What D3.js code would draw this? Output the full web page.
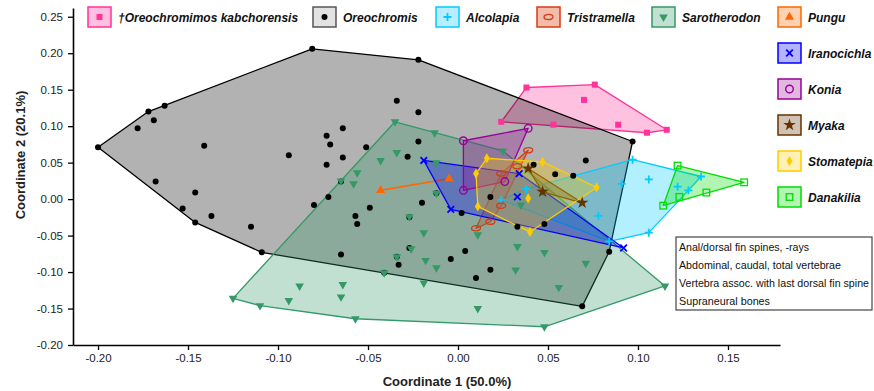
<!DOCTYPE html>
<html><head><meta charset="utf-8">
<script src="https://cdn.jsdelivr.net/npm/d3@7"></script>
<style>
body{margin:0;background:#fff}
svg{display:block}
text{font-family:"Liberation Sans",Arial,Helvetica,sans-serif}
</style>
</head><body>
<svg id="c" width="874" height="391"></svg>
<script>
// ---------- DATA (Coordinate 1, Coordinate 2) ----------
const groupNames = ["†Oreochromimos kabchorensis","Oreochromis","Alcolapia","Tristramella","Sarotherodon","Pungu","Iranocichla","Konia","Myaka","Stomatepia","Danakilia"];

const oreochromimos = [[0.038,0.153],[0.076,0.157],[0.070,0.136],[0.024,0.106],[0.053,0.102],[0.089,0.102],[0.105,0.091],[0.116,0.095]];

const oreochromis = [[-0.200,0.071],[-0.178,0.097],[-0.172,0.120],[-0.169,0.108],[-0.163,0.128],[-0.168,0.024],[-0.153,-0.013],[-0.146,0.009],[-0.146,-0.032],[-0.141,0.073],[-0.137,-0.023],[-0.115,-0.038],[-0.109,-0.073],[-0.094,0.060],[-0.081,0.206],[-0.080,-0.008],[-0.073,0.087],[-0.071,0.075],[-0.064,0.097],[-0.064,0.057],[-0.073,0.047],[-0.072,0.003],[-0.065,0.024],[-0.065,-0.076],[-0.057,-0.023],[-0.056,-0.034],[-0.051,0.071],[-0.049,-0.012],[-0.041,-0.101],[-0.034,0.135],[-0.034,-0.079],[-0.033,-0.090],[-0.028,0.058],[-0.027,-0.025],[-0.027,-0.067],[-0.022,0.119],[-0.022,0.079],[-0.022,0.191],[-0.020,-0.005],[-0.012,0.008],[-0.004,-0.082],[0.002,-0.019],[0.004,-0.071],[0.010,-0.108],[0.018,0.003],[0.018,-0.097],[0.033,-0.038],[0.042,0.047],[0.048,-0.034],[0.054,0.034],[0.064,0.032],[0.071,0.053],[0.069,-0.147],[0.084,-0.072],[0.097,0.079]];

const alcolapia = [[0.097,0.054],[0.091,0.021],[0.106,0.027],[0.106,-0.046],[0.084,-0.058],[0.078,-0.023],[0.122,0.017],[0.128,0.012],[0.135,0.031],[0.038,0.014],[0.024,-0.001]];

const tristramella = [[0.039,0.067],[0.033,0.045],[0.024,0.035],[0.024,-0.009],[0.018,-0.031],[0.010,-0.040]];

const sarotherodon = [[-0.035,0.106],[-0.013,0.091],[0.025,0.066],[0.047,0.010],[-0.034,0.064],[-0.043,0.053],[-0.056,0.036],[-0.058,0.021],[-0.065,0.025],[-0.012,0.050],[-0.012,0.008],[-0.027,-0.024],[-0.019,-0.046],[-0.026,-0.068],[-0.034,-0.079],[-0.018,-0.084],[-0.012,-0.094],[-0.041,-0.101],[-0.019,-0.115],[0.011,-0.049],[0.033,-0.065],[0.048,-0.073],[0.032,-0.097],[0.071,-0.088],[0.056,-0.121],[0.011,-0.150],[0.048,-0.175],[-0.057,-0.164],[-0.088,-0.119],[-0.064,-0.117],[-0.065,-0.134],[-0.094,-0.139],[-0.110,-0.146],[-0.125,-0.136],[0.035,-0.008],[0.115,-0.119]];

const pungu = [[-0.043,0.012],[-0.005,0.028]];

const iranocichla = [[-0.019,0.053],[0.034,0.035],[0.033,0.003],[-0.004,-0.014],[0.092,-0.067]];

const konia = [[0.003,0.080],[0.039,0.097],[0.026,0.024],[0.003,0.012]];

const myaka = [[0.039,0.042],[0.047,0.010],[0.069,-0.005]];

const stomatepia = [[0.016,0.056],[0.047,0.051],[0.077,0.016],[0.039,0.001],[0.040,-0.045],[0.011,-0.010],[0.010,0.035]];

const danakilia = [[0.122,0.046],[0.159,0.023],[0.138,0.009],[0.123,0.003],[0.114,-0.009]];

const seriesValues = [oreochromimos,oreochromis,alcolapia,tristramella,sarotherodon,pungu,iranocichla,konia,myaka,stomatepia,danakilia];

const xTickValues = [-0.20,-0.15,-0.10,-0.05,0.00,0.05,0.10,0.15];
const yTickValues = [-0.20,-0.15,-0.10,-0.05,0.00,0.05,0.10,0.15,0.20,0.25];
const xTitle = "Coordinate 1 (50.0%)";
const yTitle = "Coordinate 2 (20.1%)";
const noteLines = ["Anal/dorsal fin spines, -rays","Abdominal, caudal, total vertebrae","Vertebra assoc. with last dorsal fin spine","Supraneural bones"];

// ---------- STYLES ----------
const styles = [
  {color:"#ff3399", legFill:"#ffbfe0", marker:"square"},
  {color:"#000000", legFill:"#e2e2e2", legStroke:"#555", marker:"dot"},
  {color:"#00ccff", legFill:"#b8eeff", marker:"plus"},
  {color:"#d93a14", legFill:"#f2bcaa", marker:"ellipse"},
  {color:"#339966", legFill:"#c2e0d1", marker:"tridown"},
  {color:"#ff6600", legFill:"#ffd1b3", marker:"triup"},
  {color:"#0000ff", legFill:"#b3b3ff", marker:"x"},
  {color:"#990099", legFill:"#e0b8e0", marker:"ocircle"},
  {color:"#663300", legFill:"#d1c2b3", marker:"star"},
  {color:"#ffcc00", legFill:"#fff0b3", marker:"diamond"},
  {color:"#00dd00", legFill:"#b3f5b3", marker:"osquare"}
];
const legendPos = [[88,7],[313,7],[436,7],[537,7],[652,7],[778,7],[778,43],[778,79],[778,115],[778,151],[778,187]];

// ---------- LAYOUT ----------
const svg = d3.select("#c");
const L = 73, R = 780, T = 8, B = 345;
const x = d3.scaleLinear().domain([-0.2139,0.1789]).range([L,R]);
const y = d3.scaleLinear().domain([-0.20,0.262]).range([B,T]);

function drawMarker(g, type, color){
  switch(type){
    case "square": return g.append("rect").attr("x",-3).attr("y",-3).attr("width",6).attr("height",6).attr("fill",color);
    case "dot": return g.append("circle").attr("r",3).attr("fill",color);
    case "plus": return g.append("path").attr("d","M-4,0H4M0,-4V4").attr("stroke",color).attr("stroke-width",1.8).attr("fill","none");
    case "ellipse": return g.append("ellipse").attr("rx",4.5).attr("ry",2.6).attr("fill","none").attr("stroke",color).attr("stroke-width",1.3);
    case "tridown": return g.append("path").attr("d",d3.symbol(d3.symbolTriangle,32)()).attr("transform","rotate(180)").attr("fill",color);
    case "triup": return g.append("path").attr("d",d3.symbol(d3.symbolTriangle,36)()).attr("fill",color);
    case "x": return g.append("path").attr("d","M-3.3,-3.3L3.3,3.3M-3.3,3.3L3.3,-3.3").attr("stroke",color).attr("stroke-width",1.8).attr("fill","none");
    case "ocircle": return g.append("circle").attr("r",3.8).attr("fill","none").attr("stroke",color).attr("stroke-width",1.4);
    case "star": return g.append("path").attr("d",d3.symbol(d3.symbolStar,48)()).attr("fill",color);
    case "diamond": return g.append("path").attr("d",d3.symbol(d3.symbolDiamond,30)()).attr("fill",color);
    case "osquare": return g.append("rect").attr("x",-3.3).attr("y",-3.3).attr("width",6.6).attr("height",6.6).attr("fill","none").attr("stroke",color).attr("stroke-width",1.3);
  }
}

// polygons (convex hulls)
const polyLayer = svg.append("g");
seriesValues.forEach((pts,i)=>{
  const st = styles[i];
  const px = pts.map(p=>[x(p[0]),y(p[1])]);
  if(px.length >= 3){
    const hull = d3.polygonHull(px);
    polyLayer.append("path")
      .attr("d","M"+hull.map(p=>p.join(",")).join("L")+"Z")
      .attr("fill",st.color).attr("fill-opacity",0.3)
      .attr("stroke",st.color).attr("stroke-width",1.3).attr("stroke-linejoin","round");
  } else {
    polyLayer.append("path")
      .attr("d","M"+px.map(p=>p.join(",")).join("L"))
      .attr("fill","none").attr("stroke",st.color).attr("stroke-width",1.5);
  }
});

// points
const ptLayer = svg.append("g");
seriesValues.forEach((pts,i)=>{
  const st = styles[i];
  pts.forEach(p=>{
    const g = ptLayer.append("g").attr("transform",`translate(${x(p[0])},${y(p[1])})`);
    drawMarker(g, st.marker, st.color);
  });
});

// axes
const fmt = d => d.toFixed(2);
const xAxis = svg.append("g").attr("transform",`translate(0,${B})`)
  .call(d3.axisBottom(x).tickValues(xTickValues).tickFormat(fmt).tickSize(5).tickSizeOuter(0).tickPadding(4));
const yAxis = svg.append("g").attr("transform",`translate(${L},0)`)
  .call(d3.axisLeft(y).tickValues(yTickValues).tickFormat(fmt).tickSize(5).tickSizeOuter(0).tickPadding(5));
[xAxis,yAxis].forEach(a=>{
  a.select(".domain").attr("stroke","#000").attr("stroke-width",1.6);
  a.selectAll(".tick line").attr("stroke","#000").attr("stroke-width",1.3);
  a.selectAll(".tick text").attr("fill","#222").style("font-size","11.5px").style("font-family","'Liberation Sans',Arial,sans-serif");
});

svg.append("text").attr("x",447).attr("y",386).attr("text-anchor","middle")
  .style("font-size","13px").style("font-weight","bold").attr("fill","#222").text(xTitle);
svg.append("text").attr("transform","translate(25,155) rotate(-90)").attr("text-anchor","middle")
  .style("font-size","13px").style("font-weight","bold").attr("fill","#222").text(yTitle);

// legend
groupNames.forEach((name,i)=>{
  const st = styles[i];
  const [lx,ly] = legendPos[i];
  const g = svg.append("g").attr("transform",`translate(${lx},${ly})`);
  g.append("rect").attr("width",23).attr("height",20).attr("fill",st.legFill)
    .attr("stroke",st.legStroke||st.color).attr("stroke-width",1.5);
  const m = g.append("g").attr("transform","translate(11.5,10)");
  drawMarker(m, st.marker, st.color);
  g.append("text").attr("x",30).attr("y",14.5)
    .style("font-size","12px").style("font-weight","bold").style("font-style","italic")
    .attr("fill","#111").text(name);
});

// note box
const nb = svg.append("g");
nb.append("rect").attr("x",676).attr("y",237).attr("width",196).attr("height",73)
  .attr("fill","#fff").attr("stroke","#444").attr("stroke-width",1.2);
const noteWidths = [130,162,190,91];
noteLines.forEach((t,i)=>{
  nb.append("text").attr("x",679).attr("y",251+i*18)
    .style("font-size","11px").attr("fill","#111")
    .attr("textLength",noteWidths[i]).attr("lengthAdjust","spacingAndGlyphs").text(t);
});
</script>
</body></html>
